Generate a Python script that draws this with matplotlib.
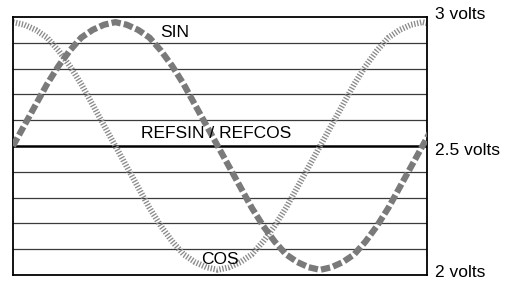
import matplotlib.pyplot as plt

plt.rcParams['font.family'] = ['Liberation Sans', 'DejaVu Sans']

# phase in degrees, voltages
phase = [0, 10, 20, 30, 40, 50, 60, 70, 80, 90, 100, 110, 120, 130, 140, 150, 160, 170,
         180, 190, 200, 210, 220, 230, 240, 250, 260, 270, 280, 290, 300, 310, 320, 330,
         340, 350, 360, 370]
sin_volts = [2.50, 2.58, 2.66, 2.74, 2.81, 2.87, 2.92, 2.95, 2.97, 2.98, 2.97, 2.95, 2.92,
             2.87, 2.81, 2.74, 2.66, 2.58, 2.50, 2.42, 2.34, 2.26, 2.19, 2.13, 2.08, 2.05,
             2.03, 2.02, 2.03, 2.05, 2.08, 2.13, 2.19, 2.26, 2.34, 2.42, 2.50, 2.58]
cos_volts = [2.98, 2.97, 2.95, 2.92, 2.87, 2.81, 2.74, 2.66, 2.58, 2.50, 2.42, 2.34, 2.26,
             2.19, 2.13, 2.08, 2.05, 2.03, 2.02, 2.03, 2.05, 2.08, 2.13, 2.19, 2.26, 2.34,
             2.42, 2.50, 2.58, 2.66, 2.74, 2.81, 2.87, 2.92, 2.95, 2.97, 2.98, 2.97]
grid_levels = [2.1, 2.2, 2.3, 2.4, 2.6, 2.7, 2.8, 2.9]
ref_level = 2.5
volt_labels = ['3 volts', '2.5 volts', '2 volts']

fig = plt.figure(figsize=(5.15, 2.84), dpi=100)
ax = fig.add_axes([0.0252, 0.0317, 0.804, 0.9085])

for g in grid_levels:
    ax.axhline(g, color='#3a3a3a', lw=0.9, zorder=1)
ax.axhline(ref_level, color='black', lw=1.8, zorder=1)

ax.plot(phase, cos_volts, color='#8a8a8a', lw=4.3, linestyle=(0, (0.22, 0.28)),
        solid_capstyle='butt', dash_capstyle='butt', zorder=2)
ax.plot(phase, sin_volts, color='#7a7a7a', lw=4.5, linestyle=(0, (1.5, 0.5)),
        dash_capstyle='butt', zorder=3)

ax.set_xlim(0, 364)
ax.set_ylim(2, 3)
ax.set_xticks([])
ax.set_yticks([])
for s in ax.spines.values():
    s.set_linewidth(1.3)
    s.set_color('black')

ax.text(129, 2.94, 'SIN', fontsize=12.5, ha='left', va='center', zorder=4)
ax.text(179, 2.547, 'REFSIN / REFCOS', fontsize=12.5, ha='center', va='center', zorder=4)
ax.text(182, 2.062, 'COS', fontsize=12.5, ha='center', va='center', zorder=4)

for lbl, yy in zip(volt_labels, [1.008, 0.484, 0.008]):
    ax.text(1.019, yy, lbl, transform=ax.transAxes, fontsize=12.5, ha='left', va='center')

fig.savefig('out.png', dpi=100)
